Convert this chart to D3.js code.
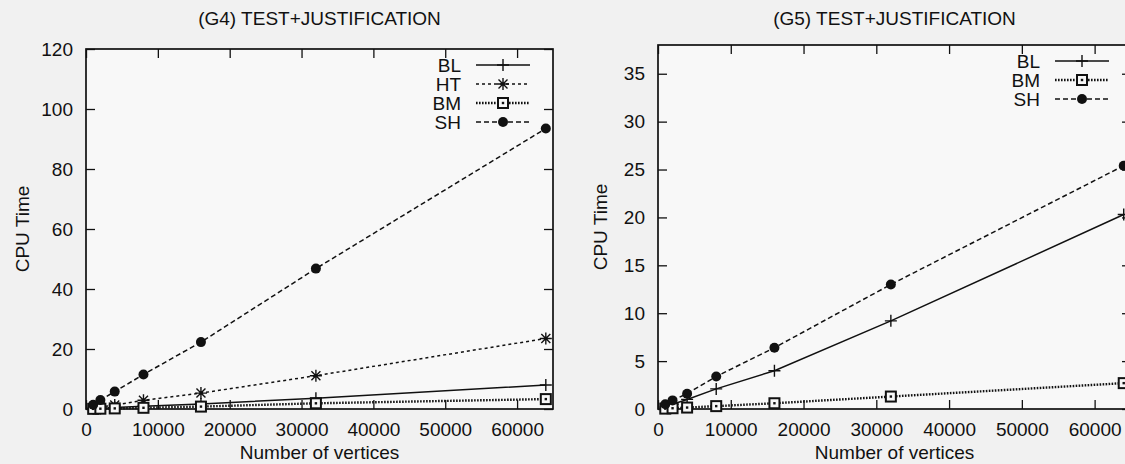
<!DOCTYPE html>
<html>
<head>
<meta charset="utf-8">
<script src="https://cdn.jsdelivr.net/npm/d3@7"></script>
<style>
  body { margin: 0; background: #f1f1f1; }
  svg { display: block; font-family: "Liberation Sans", Arial, sans-serif; }
</style>
</head>
<body>
<script>
// number of vertices tested
var vertices = [1000, 2000, 4000, 8000, 16000, 32000, 64000];

// (G4) cpu times
var g4BL = [0.1, 0.2, 0.5, 0.9, 1.7, 3.6, 8.0];
var g4HT = [0.3, 0.7, 1.3, 2.9, 5.3, 11.1, 23.5];
var g4BM = [0.05, 0.1, 0.2, 0.4, 0.8, 1.9, 3.3];
var g4SH = [1.4, 3.0, 5.8, 11.5, 22.3, 46.8, 93.5];

// (G5) cpu times
var g5BL = [0.2, 0.5, 1.0, 2.1, 4.0, 9.2, 20.3];
var g5BM = [0.04, 0.08, 0.15, 0.3, 0.6, 1.3, 2.7];
var g5SH = [0.5, 0.9, 1.6, 3.4, 6.4, 13.0, 25.4];

var xTicks = [0, 10000, 20000, 30000, 40000, 50000, 60000];
var g4YTicks = [0, 20, 40, 60, 80, 100, 120];
var g5YTicks = [0, 5, 10, 15, 20, 25, 30, 35];

var W = 1125, H = 464;
var ink = "#111";
var fs = "19px";

var styles = {
    BL: { dash: null, width: 1.5, mark: "plus" },
    HT: { dash: "3,3", width: 1.5, mark: "star" },
    BM: { dash: "1.6,1.4", width: 2.4, mark: "box" },
    SH: { dash: "5,3", width: 1.5, mark: "dot" }
};

var panels = [
    { title: "(G4) TEST+JUSTIFICATION", left: 86, right: 553, top: 49, bottom: 409,
      ymax: 120, yTicks: g4YTicks, ylabX: 22, legX: 503,
      series: [["BL", g4BL], ["HT", g4HT], ["BM", g4BM], ["SH", g4SH]] },
    { title: "(G5) TEST+JUSTIFICATION", left: 658, right: 1131, top: 45, bottom: 409,
      ymax: 38, yTicks: g5YTicks, ylabX: 600, legX: 1082,
      series: [["BL", g5BL], ["BM", g5BM], ["SH", g5SH]] }
];

var svg = d3.select("body").append("svg")
    .attr("width", W)
    .attr("height", H);

// point markers, drawn the gnuplot way
function drawMark(g, kind, cx, cy) {
    if (kind == "plus") {
        g.append("path").attr("d", "M" + (cx - 6) + "," + cy + "h12M" + cx + "," + (cy - 6) + "v12")
            .attr("stroke", ink).attr("stroke-width", 1.4).attr("fill", "none");
    } else if (kind == "star") {
        g.append("path")
            .attr("d", "M" + (cx - 6) + "," + cy + "h12M" + cx + "," + (cy - 6) + "v12" +
                "M" + (cx - 4.5) + "," + (cy - 4.5) + "l9,9M" + (cx - 4.5) + "," + (cy + 4.5) + "l9,-9")
            .attr("stroke", ink).attr("stroke-width", 1.4).attr("fill", "none");
    } else if (kind == "box") {
        g.append("rect").attr("x", cx - 5).attr("y", cy - 5).attr("width", 10).attr("height", 10)
            .attr("fill", "#f7f7f7").attr("stroke", ink).attr("stroke-width", 2);
        g.append("rect").attr("x", cx - 1.2).attr("y", cy - 1.2).attr("width", 2.4).attr("height", 2.4)
            .attr("fill", ink);
    } else {
        g.append("circle").attr("cx", cx).attr("cy", cy).attr("r", 5).attr("fill", ink);
    }
}

panels.forEach(function (p) {
    var x = d3.scaleLinear().domain([0, 65000]).range([p.left, p.right]);
    var y = d3.scaleLinear().domain([0, p.ymax]).range([p.bottom, p.top]);
    var g = svg.append("g");

    g.append("rect")
        .attr("x", p.left).attr("y", p.top)
        .attr("width", p.right - p.left).attr("height", p.bottom - p.top)
        .attr("fill", "#f8f8f8");

    // ticks, inward and mirrored
    var tl = 9;
    var xAxisB = d3.axisBottom(x).tickValues(xTicks).tickFormat(d3.format("d"))
        .tickSizeInner(-tl).tickSizeOuter(0).tickPadding(tl + 5);
    var xAxisT = d3.axisTop(x).tickValues(xTicks).tickSizeInner(-tl).tickSizeOuter(0).tickFormat("");
    var yAxisL = d3.axisLeft(y).tickValues(p.yTicks).tickSizeInner(-tl).tickSizeOuter(0).tickPadding(tl + 4);
    var yAxisR = d3.axisRight(y).tickValues(p.yTicks).tickSizeInner(-tl).tickSizeOuter(0).tickFormat("");

    var axes = [
        g.append("g").attr("transform", "translate(0," + p.bottom + ")").call(xAxisB),
        g.append("g").attr("transform", "translate(0," + p.top + ")").call(xAxisT),
        g.append("g").attr("transform", "translate(" + p.left + ",0)").call(yAxisL),
        g.append("g").attr("transform", "translate(" + p.right + ",0)").call(yAxisR)
    ];
    axes.forEach(function (a) {
        a.attr("font-size", null).attr("font-family", null);
        a.select(".domain").remove();
        a.selectAll("line").attr("stroke", ink).attr("stroke-width", 1.3);
        a.selectAll("text").attr("fill", ink).style("font-size", fs);
    });

    // frame
    g.append("rect")
        .attr("x", p.left).attr("y", p.top)
        .attr("width", p.right - p.left).attr("height", p.bottom - p.top)
        .attr("fill", "none").attr("stroke", ink).attr("stroke-width", 1.7);

    var line = d3.line()
        .x(function (d) { return x(d[0]); })
        .y(function (d) { return y(d[1]); });

    p.series.forEach(function (s) {
        var st = styles[s[0]];
        var pts = vertices.map(function (v, i) { return [v, s[1][i]]; });
        g.append("path")
            .datum(pts)
            .attr("d", line)
            .attr("fill", "none")
            .attr("stroke", ink)
            .attr("stroke-width", st.width)
            .attr("stroke-dasharray", st.dash);
        pts.forEach(function (d) { drawMark(g, st.mark, x(d[0]), y(d[1])); });
    });

    // legend
    p.series.forEach(function (s, i) {
        var st = styles[s[0]];
        var ly = p.top + 16 + i * 19;
        g.append("text")
            .attr("x", p.legX - 42).attr("y", ly).attr("dy", "0.35em")
            .attr("text-anchor", "end").attr("fill", ink)
            .style("font-size", fs)
            .text(s[0]);
        g.append("line")
            .attr("x1", p.legX - 27).attr("x2", p.legX + 27)
            .attr("y1", ly).attr("y2", ly)
            .attr("stroke", ink).attr("stroke-width", st.width)
            .attr("stroke-dasharray", st.dash);
        drawMark(g, st.mark, p.legX, ly);
    });

    // titles
    g.append("text")
        .attr("x", (p.left + p.right) / 2).attr("y", 25)
        .attr("text-anchor", "middle").attr("fill", ink)
        .style("font-size", fs)
        .text(p.title);
    g.append("text")
        .attr("x", (p.left + p.right) / 2).attr("y", 459)
        .attr("text-anchor", "middle").attr("fill", ink)
        .style("font-size", fs)
        .text("Number of vertices");
    g.append("text")
        .attr("transform", "translate(" + p.ylabX + "," + ((p.top + p.bottom) / 2) + ") rotate(-90)")
        .attr("dy", "0.35em")
        .attr("text-anchor", "middle").attr("fill", ink)
        .style("font-size", fs)
        .text("CPU Time");
});
</script>
</body>
</html>
